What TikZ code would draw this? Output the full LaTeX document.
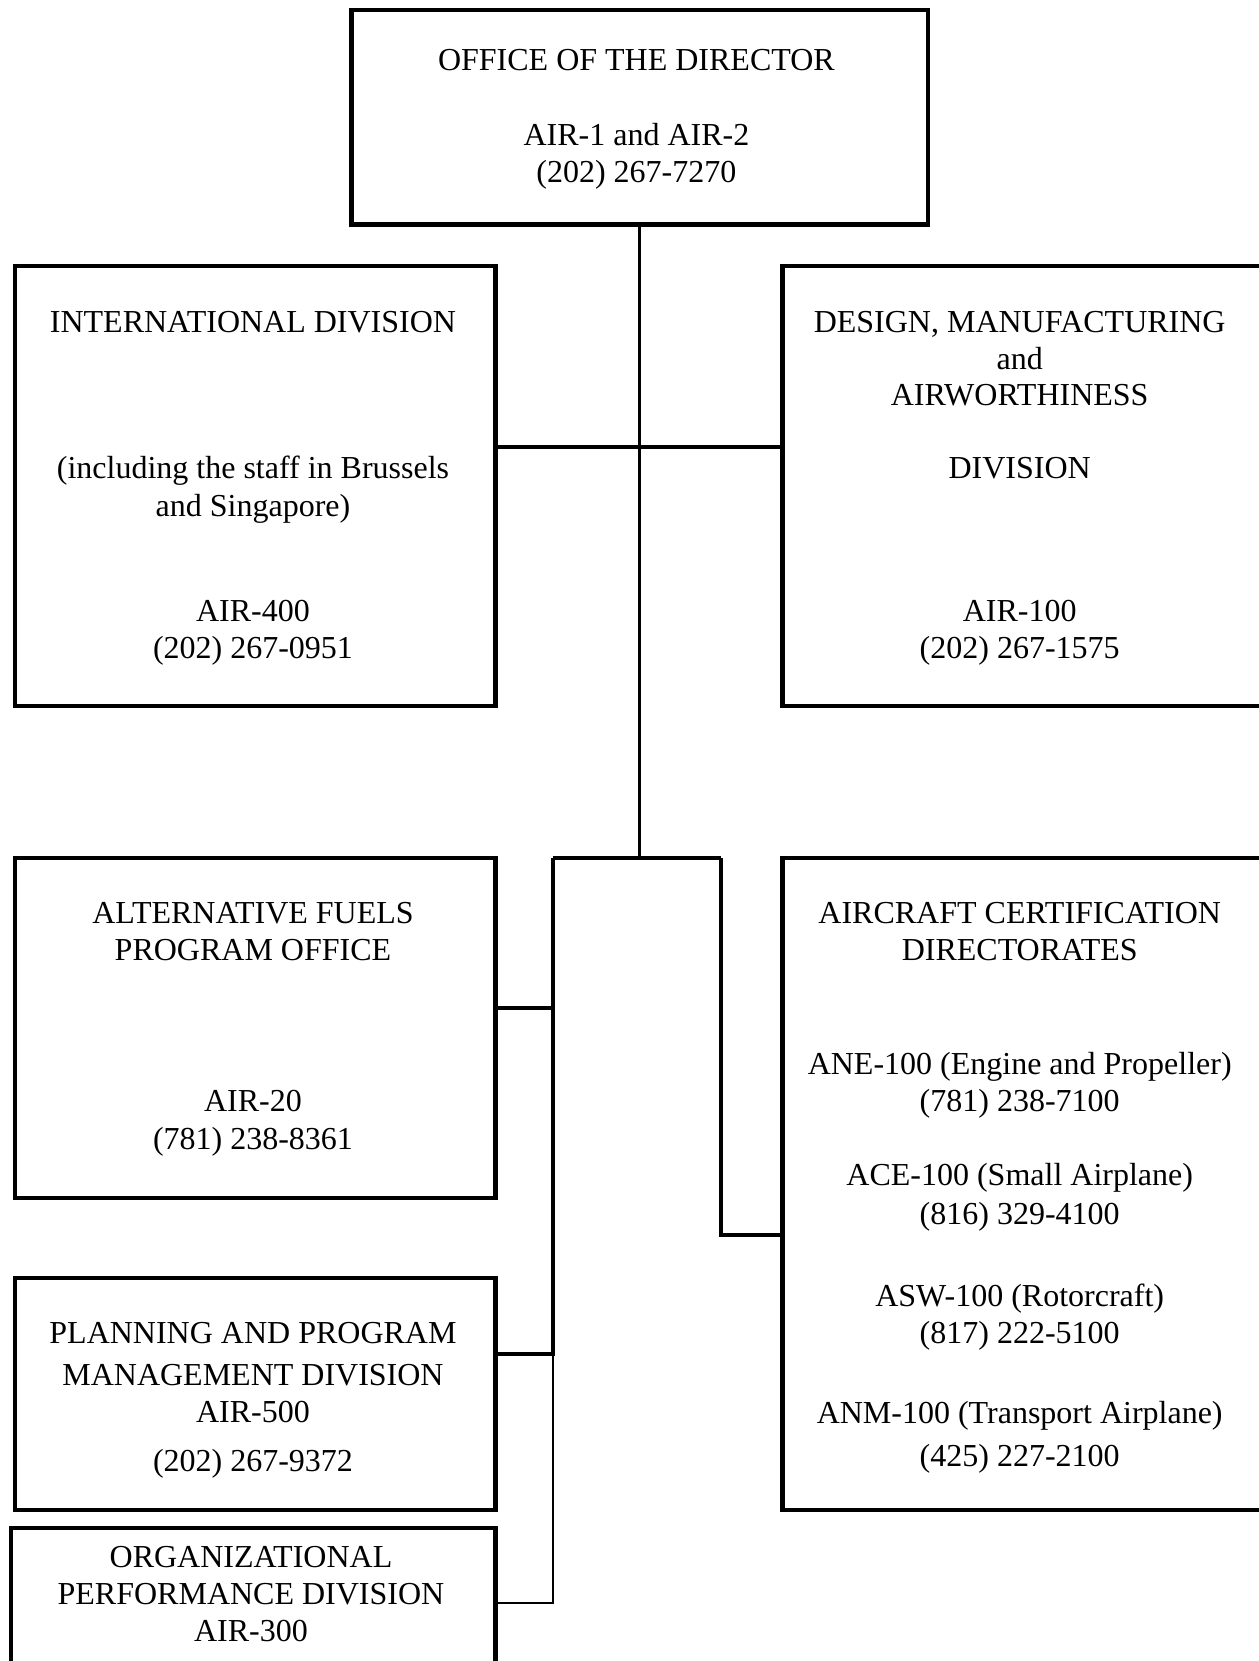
\documentclass[tikz,border=0pt]{standalone}
\usepackage{fontspec}
\setmainfont{Liberation Serif}
\begin{document}
\begin{tikzpicture}[x=0.5pt,y=-0.5pt,
  box/.style={draw,line width=2.1pt,rectangle,inner sep=0pt,anchor=north west},
  conn/.style={line width=1.9pt},
  thinconn/.style={line width=0.9pt},
  lbl/.style={anchor=base,inner sep=0pt,font=\fontsize{16}{19}\selectfont}]
\useasboundingbox (0,0) rectangle (1259,1661);

% boxes
\node[box,minimum width=288.05pt,minimum height=107.45pt] (top) at (349.4,7.5) {};
\node[box,minimum width=240.35pt,minimum height=219.75pt] (intl) at (12.7,264.2) {};
\node[box,minimum width=240.8pt,minimum height=219.75pt] (design) at (780.4,264.2) {};
\node[box,minimum width=240.35pt,minimum height=169.95pt] (alt) at (12.7,855.6) {};
\node[box,minimum width=240.8pt,minimum height=326.15pt] (cert) at (780.4,855.6) {};
\node[box,minimum width=240.35pt,minimum height=115.95pt] (plan) at (12.7,1276) {};
\node[box,minimum width=242.45pt,minimum height=69.55pt] (org) at (8.5,1525.9) {};

% texts
\node[lbl] (t1) at (636.4,70.9) {OFFICE OF THE DIRECTOR};
\node[lbl] (t2) at (636.4,145) {AIR-1 and AIR-2};
\node[lbl] (t3) at (636.4,182) {(202) 267-7270};

\node[lbl] (i1) at (253,332.4) {INTERNATIONAL DIVISION};
\node[lbl] (i2) at (253,478.5) {(including the staff in Brussels};
\node[lbl] (i3) at (253,516.7) {and Singapore)};
\node[lbl] (i4) at (253,621.5) {AIR-400};
\node[lbl] (i5) at (253,658.5) {(202) 267-0951};

\node[lbl] (d1) at (1019.7,332.4) {DESIGN, MANUFACTURING};
\node[lbl] (d2) at (1019.7,369.4) {and};
\node[lbl] (d3) at (1019.7,405.5) {AIRWORTHINESS};
\node[lbl] (d4) at (1019.7,478.5) {DIVISION};
\node[lbl] (d5) at (1019.7,621.5) {AIR-100};
\node[lbl] (d6) at (1019.7,658.5) {(202) 267-1575};

\node[lbl] (a1) at (253,923.3) {ALTERNATIVE FUELS};
\node[lbl] (a2) at (253,960.3) {PROGRAM OFFICE};
\node[lbl] (a3) at (253,1111.8) {AIR-20};
\node[lbl] (a4) at (253,1149.9) {(781) 238-8361};

\node[lbl] (c1) at (1019.7,923.3) {AIRCRAFT CERTIFICATION};
\node[lbl] (c2) at (1019.7,960.3) {DIRECTORATES};
\node[lbl] (c3) at (1019.7,1074.7) {ANE-100 (Engine and Propeller)};
\node[lbl] (c4) at (1019.7,1111.8) {(781) 238-7100};
\node[lbl] (c5) at (1019.7,1185.9) {ACE-100 (Small Airplane)};
\node[lbl] (c6) at (1019.7,1224) {(816) 329-4100};
\node[lbl] (c7) at (1019.7,1306.6) {ASW-100 (Rotorcraft)};
\node[lbl] (c8) at (1019.7,1343.7) {(817) 222-5100};
\node[lbl] (c9) at (1019.7,1423.1) {ANM-100 (Transport Airplane)};
\node[lbl] (c10) at (1019.7,1466.5) {(425) 227-2100};

\node[lbl] (p1) at (253,1343.7) {PLANNING AND PROGRAM};
\node[lbl] (p2) at (253,1385) {MANAGEMENT DIVISION};
\node[lbl] (p3) at (253,1422) {AIR-500};
\node[lbl] (p4) at (253,1471.8) {(202) 267-9372};

\node[lbl] (o1) at (251,1567.1) {ORGANIZATIONAL};
\node[lbl] (o2) at (251,1604.1) {PERFORMANCE DIVISION};
\node[lbl] (o3) at (251,1641.2) {AIR-300};

% connector coordinates
\coordinate (busL) at (552.7,858);
\coordinate (busR) at (721,858);
\coordinate (busC) at (top.south |- busL);
\coordinate (hy) at (0,447);
\coordinate (altY) at (0,1008);
\coordinate (planY) at (552.7,1354.3);
\coordinate (orgY) at (0,1603);
\coordinate (certY) at (0,1234.6);

% connectors
\draw[conn] (top.south) -- (busC);
\draw[conn] (intl.east |- hy) -- (design.west |- hy);
\draw[conn] (busL) -- (busR);
\draw[conn] (busL) -- (planY) -- (plan.east |- planY);
\draw[conn] (alt.east |- altY) -- (busL |- altY);
\draw[thinconn] (planY) -- (busL |- orgY) -- (org.east |- orgY);
\draw[conn] (busR) -- (busR |- certY) -- (cert.west |- certY);
\end{tikzpicture}
\end{document}
